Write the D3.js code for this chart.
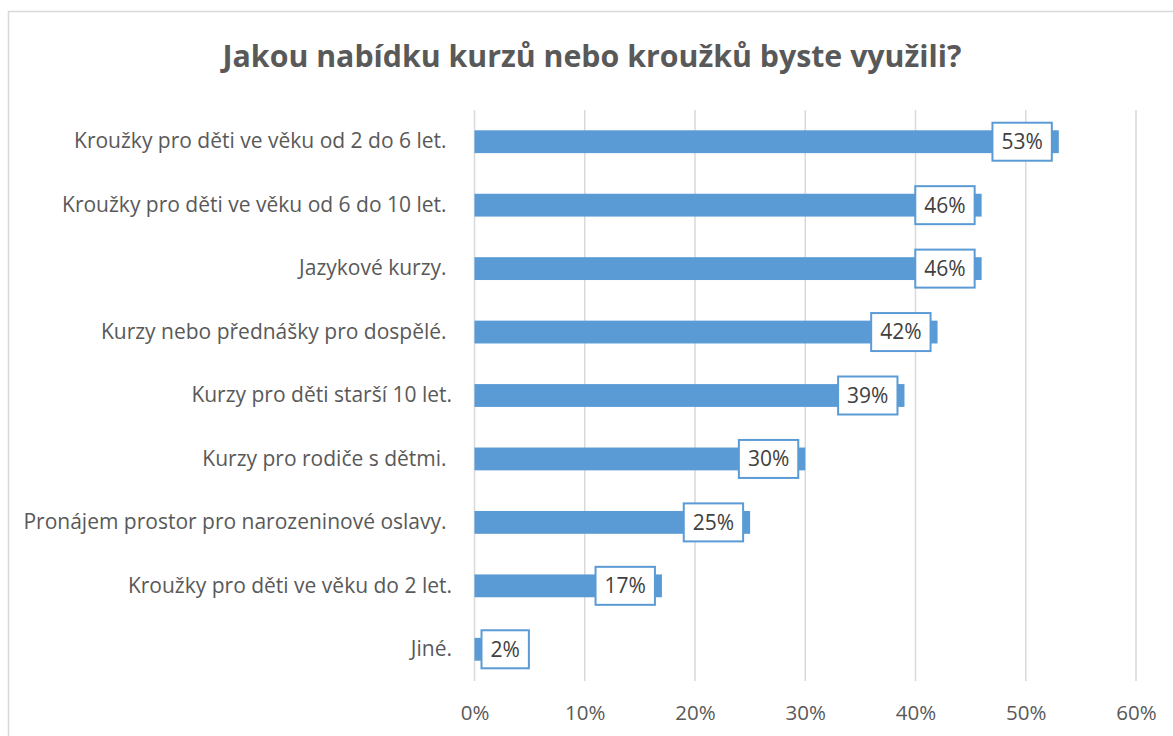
<!DOCTYPE html>
<html><head><meta charset="utf-8">
<script src="https://cdn.jsdelivr.net/npm/d3@7"></script>
<style>body{margin:0;background:#fff}svg{display:block}text{font-family:"Open Sans",sans-serif}</style>
</head><body><svg id="c" width="1173" height="736"></svg>
<script>
const titleText = "Jakou nabídku kurzů nebo kroužků byste využili?";
const categories = [
  "Kroužky pro děti ve věku od 2 do 6 let. ",
  "Kroužky pro děti ve věku od 6 do 10 let. ",
  "Jazykové kurzy. ",
  "Kurzy nebo přednášky pro dospělé. ",
  "Kurzy pro děti starší 10 let.",
  "Kurzy pro rodiče s dětmi. ",
  "Pronájem prostor pro narozeninové oslavy. ",
  "Kroužky pro děti ve věku do 2 let.",
  "Jiné."
];
const values = [0.53, 0.46, 0.46, 0.42, 0.39, 0.30, 0.25, 0.17, 0.02];
const tickValues = [0, 0.1, 0.2, 0.3, 0.4, 0.5, 0.6];

const svg = d3.select("#c");
svg.append("rect").attr("x",8.5).attr("y",11.5).attr("width",1200).attr("height",800)
  .attr("fill","#fff").attr("stroke","#d9d9d9").attr("stroke-width",1.5);

svg.append("text").attr("x",592).attr("y",67).attr("text-anchor","middle")
  .attr("font-size",30.3).attr("font-weight","bold").attr("fill","#595959").text(titleText);

const x = d3.scaleLinear().domain([0,0.6]).range([474.5,1136]);
const y = d3.scaleBand().domain(categories).range([110,681]).paddingInner(0.64).paddingOuter(0.32);

const fmt = d3.format(".0%");
// gridlines
svg.append("g").selectAll("line").data(tickValues).join("line")
  .attr("x1",d=>x(d)).attr("x2",d=>x(d)).attr("y1",110).attr("y2",681)
  .attr("stroke","#d9d9d9").attr("stroke-width",1.5);

// x axis labels
const xAxis = d3.axisBottom(x).tickValues(tickValues).tickFormat(fmt).tickSize(0).tickPadding(0);
const gx = svg.append("g").attr("transform","translate(0,705)").call(xAxis);
gx.select(".domain").remove();
gx.selectAll("text").attr("font-size",20.5).attr("fill","#595959").attr("font-family","Open Sans, sans-serif");

// y axis labels
const yAxis = d3.axisLeft(y).tickSize(0).tickPadding(0);
const gy = svg.append("g").attr("transform","translate(452,0)").call(yAxis);
gy.select(".domain").remove();
gy.selectAll("text").attr("font-size",21).attr("fill","#595959").attr("font-family","Open Sans, sans-serif")
  .style("white-space","pre");

// bars
svg.append("g").selectAll("rect").data(values).join("rect")
  .attr("x",x(0)).attr("y",(d,i)=>y(categories[i]))
  .attr("width",d=>x(d)-x(0)).attr("height",y.bandwidth()).attr("fill","#5b9bd5");

// data labels
const lg = svg.append("g").selectAll("g").data(values).join("g");
lg.each(function(d,i){
  const g = d3.select(this);
  const cy = y(categories[i]) + y.bandwidth()/2;
  const t = g.append("text").attr("font-size",21).attr("fill","#404040").attr("text-anchor","middle")
    .attr("dy","0.35em").text(fmt(d));
  const tw = t.node().getComputedTextLength();
  const w = tw + 18, h = 38;
  const right = Math.max(x(d)-7, x(0)+7+w);
  g.insert("rect","text").attr("x",right-w).attr("y",cy-h/2).attr("width",w).attr("height",h)
    .attr("fill","#fff").attr("stroke","#5b9bd5").attr("stroke-width",2);
  t.attr("x",right-w/2).attr("y",cy);
});
</script></body></html>
